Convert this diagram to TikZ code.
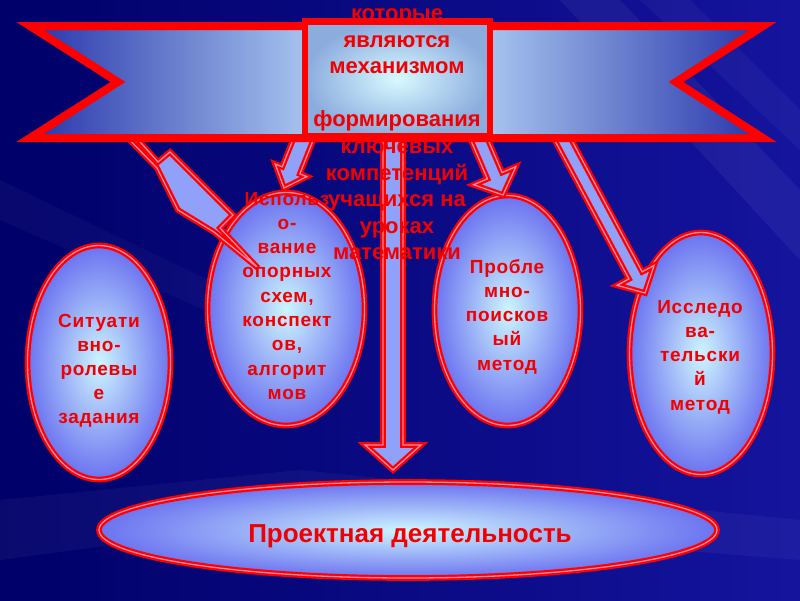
\documentclass[tikz,border=0pt]{standalone}
\usepackage{fontspec}
\setmainfont{Liberation Sans}
\newfontfamily\ellf{Liberation Sans}[LetterSpace=4]
\usetikzlibrary{calc,shapes.geometric}
\definecolor{txtred}{RGB}{240,0,0}
\definecolor{bord}{RGB}{255,0,0}
\definecolor{dbl}{RGB}{255,135,165}
\definecolor{ellin}{RGB}{205,245,255}
\definecolor{ellout}{RGB}{108,115,240}
\definecolor{arrfill}{RGB}{145,160,248}
\definecolor{rbdark}{RGB}{40,52,170}
\definecolor{rblight}{RGB}{165,195,238}
\definecolor{boxin}{RGB}{215,250,255}
\definecolor{boxout}{RGB}{140,172,222}
\definecolor{bgl}{RGB}{0,0,105}
\definecolor{bgr}{RGB}{20,20,158}
\pgfdeclarehorizontalshading{ribbonshade}{100bp}{color(0bp)=(rbdark); color(25bp)=(rbdark); color(43.8bp)=(rblight); color(56.4bp)=(rblight); color(75bp)=(rbdark); color(100bp)=(rbdark)}
\newcommand{\txtlines}[6]{\foreach \ln [count=\k] in {#6} {\node[#1] (#2\k) at (#3, {#4+(\k-1)*#5}) {\ln};}}
\newcommand{\blockarrow}[6]{%
  \path ($(#3)!#6pt!(#2)$) coordinate (#1H);
  \draw[arrstyle] ($(#2)!#4pt!90:(#3)$) -- ($(#1H)!#4pt!90:(#3)$) -- ($(#1H)!#5pt!90:(#3)$) -- (#3)
    -- ($(#1H)!#5pt!-90:(#3)$) -- ($(#1H)!#4pt!-90:(#3)$) -- ($(#2)!#4pt!-90:(#3)$) -- cycle;}
\begin{document}
\begin{tikzpicture}[x=1pt,y=-1pt,
  rim/.style={draw=bord, double=dbl, double distance=1.3pt, line width=2.2pt},
  oval/.style={ellipse, inner sep=0pt, rim, shade, inner color=ellin, outer color=ellout},
  arrstyle/.style={rim, fill=arrfill, line join=miter},
  txt/.style={text=txtred, inner sep=0pt, anchor=base, font=\ellf\bfseries\fontsize{19}{24}\selectfont},
  boxtxt/.style={txt, font=\bfseries\fontsize{22}{26}\selectfont},
  bigtxt/.style={txt, font=\bfseries\fontsize{26}{30}\selectfont}]
\useasboundingbox (0,0) rectangle (800,600);
% background
\shade[left color=bgl, right color=bgr] (0,0) rectangle (800,600);
\fill[white, opacity=0.05] (560,0) -- (620,0) -- (800,190) -- (800,260) -- cycle;
\fill[white, opacity=0.04] (640,0) -- (690,0) -- (800,110) -- (800,150) -- cycle;
\fill[white, opacity=0.04] (0,500) -- (300,470) -- (800,520) -- (800,560) -- (300,520) -- (0,560) -- cycle;
\fill[white, opacity=0.03] (0,180) -- (0,220) -- (250,330) -- (250,300) -- cycle;
% ellipses
\node[oval, minimum width=143pt, minimum height=234pt] (e1) at (99,362.5) {};
\node[oval, minimum width=157pt, minimum height=233pt] (e2) at (286,309) {};
\node[oval, minimum width=146pt, minimum height=230pt] (e3) at (507.5,310.5) {};
\node[oval, minimum width=143pt, minimum height=242pt] (e4) at (701,353.5) {};
\node[oval, minimum width=618pt, minimum height=96pt] (e5) at (408,530) {};
% arrows
\draw[arrstyle] (115,125) -- (125,125) -- (158,162) -- (170,152) -- (233,215) -- (220,228)
  -- (258,268) -- (214,232) -- (178,210) -- (157,168) -- cycle;
\coordinate (bS) at (309,125); \coordinate (bT) at (284,188);
\blockarrow{b}{bS}{bT}{9.5}{17}{19}
\coordinate (cS) at (473,125); \coordinate (cT) at (503,195);
\blockarrow{c}{cS}{cT}{8}{23}{21}
\coordinate (dS) at (555,125); \coordinate (dT) at (645,293);
\blockarrow{d}{dS}{dT}{7.5}{21}{20}
\coordinate (fS) at (393,125); \coordinate (fT) at (393,470);
\blockarrow{f}{fS}{fT}{10}{28}{25}
% ribbon
\shadedraw[shading=ribbonshade, draw=bord, line width=8pt, line join=miter]
  (30,26) -- (763,26) -- (676,82) -- (763,138) -- (30,138) -- (118,82) -- cycle;
% central box
\node[inner sep=0pt, minimum width=185pt, minimum height=115pt, shade, inner color=boxin, outer color=boxout] (box) at (397.5,79) {};
% texts
\txtlines{boxtxt}{tb}{397}{20.5}{26.6}{которые,являются,механизмом,{},формирования,ключевых,компетенций,учащихся на,уроках,математики}
\txtlines{txt}{ta}{99}{327}{24}{Ситуати,вно-,ролевы,е,задания}
\txtlines{txt}{tc}{287}{205}{24.3}{Использ,о-,вание,опорных,{схем,},конспект,{ов,},алгорит,мов}
\txtlines{txt}{td}{507}{273}{24.3}{Пробле,мно-,поисков,ый,метод}
\txtlines{txt}{te}{700}{313}{24.3}{Исследо,ва-,тельски,й,метод}
\node[bigtxt] (tf) at (410,542) {Проектная деятельность};
% box border on top
\draw[draw=bord, line width=6.5pt] (box.north west) rectangle (box.south east);
\end{tikzpicture}
\end{document}
